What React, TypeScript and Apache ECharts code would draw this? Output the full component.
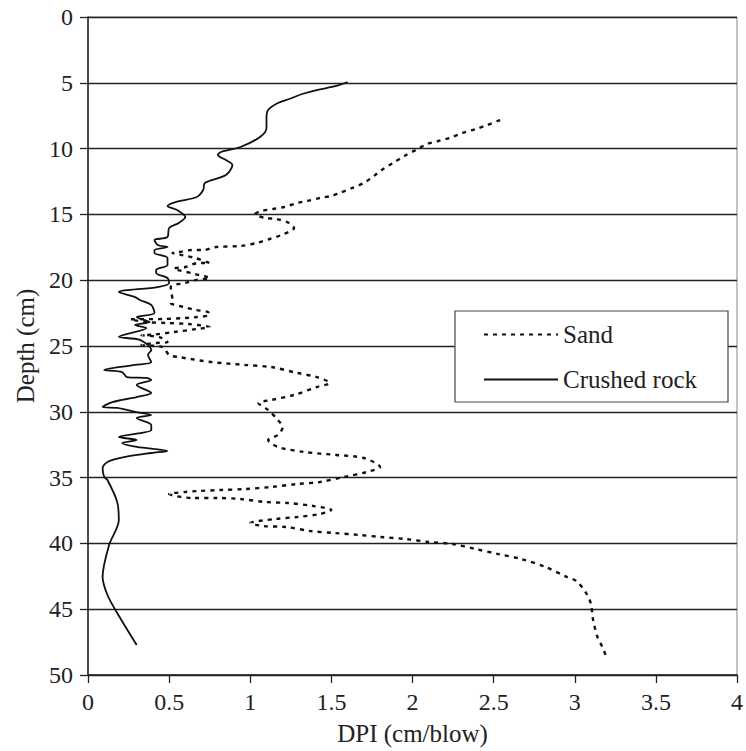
import React, { useEffect, useRef } from "react";
import * as echarts from "echarts";

const xTicks = [0, 0.5, 1, 1.5, 2, 2.5, 3, 3.5, 4];
const depthTicks = [0, 5, 10, 15, 20, 25, 30, 35, 40, 45, 50];

const sandDPI = [
  2.54, 2.46, 2.39, 2.31, 2.23, 2.16, 2.09, 2.02, 1.95, 1.88, 1.81, 1.77, 1.7, 1.63, 1.55, 1.5, 1.43, 1.35, 1.29, 1.21,
  1.14, 1.07, 1.03, 1.09, 1.16, 1.24, 1.27, 1.19, 1.12, 1.04, 0.94, 0.79, 0.71, 0.64, 0.56, 0.52, 0.58, 0.66, 0.75, 0.68,
  0.6, 0.53, 0.66, 0.75, 0.67, 0.6, 0.51, 0.52, 0.51, 0.59, 0.66, 0.74, 0.75, 0.67, 0.6, 0.46, 0.26, 0.36, 0.48, 0.62,
  0.75, 0.67, 0.53, 0.4, 0.33, 0.44, 0.49, 0.42, 0.33, 0.46, 0.5, 0.56, 0.76, 0.97, 1.13, 1.29, 1.41, 1.49, 1.41, 1.27,
  1.13, 1.05, 1.11, 1.17, 1.2, 1.17, 1.11, 1.17, 1.33, 1.53, 1.7, 1.8, 1.72, 1.58, 1.43, 1.29, 1.13, 0.97, 0.82, 0.68,
  0.6, 0.5, 0.64, 0.8, 0.94, 1.09, 1.23, 1.39, 1.5, 1.43, 1.29, 1.15, 1.0, 1.08, 1.22, 1.37, 1.52, 1.67, 1.8, 1.96,
  2.1, 2.25, 2.39, 2.53, 2.67, 2.82, 2.95, 3.01, 3.07, 3.1, 3.11, 3.12, 3.14, 3.17, 3.2,
];
const sandDepth = [
  7.83, 8.21, 8.51, 8.81, 9.19, 9.42, 9.65, 10.11, 10.56, 11.09, 11.63, 12.01, 12.61, 12.99, 13.37, 13.6, 13.75, 13.98, 14.13, 14.44,
  14.59, 14.74, 14.97, 15.27, 15.35, 15.65, 16.03, 16.57, 16.87, 17.17, 17.4, 17.48, 17.71, 17.71, 17.86, 17.93, 18.09, 18.31, 18.69, 18.69,
  19.0, 19.1, 19.53, 19.83, 19.98, 20.21, 20.52, 21.5, 21.73, 22.04, 22.26, 22.42, 22.64, 22.8, 22.87, 22.95, 22.97, 23.18, 23.25, 23.33,
  23.56, 23.71, 23.94, 24.14, 24.18, 24.32, 24.7, 24.77, 24.92, 25.08, 25.68, 25.84, 26.22, 26.44, 26.6, 27.05, 27.36, 27.81, 28.12, 28.72,
  29.1, 29.33, 29.86, 30.62, 31.16, 31.76, 32.14, 32.67, 33.05, 33.28, 33.51, 34.19, 34.57, 34.95, 35.33, 35.49, 35.71, 35.87, 35.94, 36.02,
  36.09, 36.25, 36.55, 36.55, 36.63, 36.85, 36.93, 37.16, 37.46, 37.77, 37.99, 38.15, 38.45, 38.68, 38.75, 39.06, 39.21, 39.36, 39.51, 39.67,
  39.89, 40.05, 40.43, 40.81, 41.19, 41.79, 42.55, 42.86, 43.77, 44.6, 45.59, 46.2, 47.11, 47.87, 48.78,
];

const rockDPI = [
  1.6, 1.53, 1.41, 1.32, 1.24, 1.17, 1.11, 1.1, 1.1, 1.06, 0.94, 0.82, 0.8, 0.85, 0.89, 0.85, 0.72, 0.71, 0.67, 0.54,
  0.49, 0.55, 0.6, 0.56, 0.5, 0.49, 0.41, 0.43, 0.49, 0.41, 0.41, 0.49, 0.49, 0.42, 0.42, 0.49, 0.5, 0.43, 0.19, 0.29,
  0.32, 0.39, 0.41, 0.3, 0.38, 0.29, 0.36, 0.19, 0.32, 0.39, 0.37, 0.39, 0.29, 0.1, 0.21, 0.24, 0.36, 0.39, 0.3, 0.39,
  0.3, 0.15, 0.09, 0.18, 0.3, 0.39, 0.3, 0.39, 0.39, 0.19, 0.3, 0.21, 0.3, 0.49, 0.39, 0.23, 0.12, 0.09, 0.1, 0.12,
  0.18, 0.19, 0.13, 0.09, 0.12, 0.18, 0.3,
];
const rockDepth = [
  4.94, 5.24, 5.55, 5.85, 6.23, 6.53, 7.07, 7.67, 8.43, 9.12, 9.88, 10.26, 10.49, 10.87, 11.25, 12.01, 12.61, 13.15, 13.68, 14.06,
  14.36, 14.67, 15.2, 15.65, 16.03, 16.72, 16.95, 17.33, 17.48, 17.71, 17.93, 18.31, 18.84, 19.22, 19.45, 19.83, 20.21, 20.52, 20.9, 21.28,
  21.5, 21.88, 22.49, 22.8, 23.18, 23.4, 23.63, 24.3, 24.54, 25.3, 25.68, 26.22, 26.44, 26.82, 26.98, 27.36, 27.43, 27.58, 27.96, 28.57,
  28.88, 29.26, 29.64, 29.71, 30.02, 30.24, 30.47, 31.0, 31.38, 31.91, 32.14, 32.37, 32.67, 32.98, 33.13, 33.43, 33.81, 34.27, 34.95, 35.18,
  36.85, 38.22, 40.12, 42.55, 43.92, 45.29, 47.72,
];

const FONT = "Liberation Serif";

export default function App() {
  const ref = useRef<HTMLDivElement>(null);
  useEffect(() => {
    if (!ref.current) return;
    const chart = echarts.init(ref.current, undefined, { renderer: "svg" });
    const sandData = sandDPI.map((v, i) => [v, sandDepth[i]]);
    const rockData = rockDPI.map((v, i) => [v, rockDepth[i]]);
    chart.setOption({
      animation: false,
      backgroundColor: "#fff",
      textStyle: { fontFamily: FONT },
      grid: {
        left: 88,
        right: -6,
        top: 17,
        bottom: 76,
        show: true,
        borderColor: "#888",
        borderWidth: 1,
      },
      legend: {
        orient: "vertical",
        left: 455,
        top: 311,
        backgroundColor: "#fff",
        borderColor: "#444",
        borderWidth: 1.2,
        borderRadius: 0,
        padding: [11, 31, 10, 28],
        itemGap: 20,
        itemWidth: 74,
        itemHeight: 20,
        itemStyle: { color: "transparent", borderWidth: 0, opacity: 0 },
        textStyle: { fontFamily: FONT, fontSize: 25, color: "#222" },
        data: ["Sand", "Crushed rock"],
      },
      xAxis: {
        type: "value",
        min: xTicks[0],
        max: xTicks[xTicks.length - 1],
        interval: 0.5,
        name: "DPI (cm/blow)",
        nameLocation: "middle",
        nameGap: 46,
        nameTextStyle: { fontFamily: FONT, fontSize: 25, color: "#222" },
        axisLine: { show: true, onZero: false, lineStyle: { color: "#222", width: 1.5 } },
        axisTick: { show: true, inside: false, length: 8, lineStyle: { color: "#222", width: 1.3 } },
        axisLabel: { fontFamily: FONT, fontSize: 24, color: "#222", margin: 15 },
        splitLine: { show: false },
      },
      yAxis: {
        type: "value",
        inverse: true,
        min: depthTicks[0],
        max: depthTicks[depthTicks.length - 1],
        interval: 5,
        name: "Depth (cm)",
        nameLocation: "middle",
        nameGap: 50,
        nameTextStyle: { fontFamily: FONT, fontSize: 25, color: "#222" },
        axisLine: { show: true, onZero: false, lineStyle: { color: "#222", width: 1.5 } },
        axisTick: { show: true, inside: false, length: 8, lineStyle: { color: "#222", width: 1.3 } },
        axisLabel: { fontFamily: FONT, fontSize: 24, color: "#222", margin: 15 },
        splitLine: { show: true, lineStyle: { color: "#222", width: 1.3 } },
      },
      series: [
        {
          name: "Sand",
          type: "line",
          data: sandData,
          symbol: "none",
          smooth: 0.3,
          lineStyle: { color: "#111", width: 2.4, type: [4, 5] },
          itemStyle: { color: "#111" },
        },
        {
          name: "Crushed rock",
          type: "line",
          data: rockData,
          symbol: "none",
          smooth: 0.3,
          lineStyle: { color: "#111", width: 1.8, type: "solid" },
          itemStyle: { color: "#111" },
        },
      ],
    });
    return () => chart.dispose();
  }, []);
  return (
    <div
      ref={ref}
      style={{ position: "fixed", left: 0, top: 0, width: 746, height: 751, background: "#fff" }}
    />
  );
}
